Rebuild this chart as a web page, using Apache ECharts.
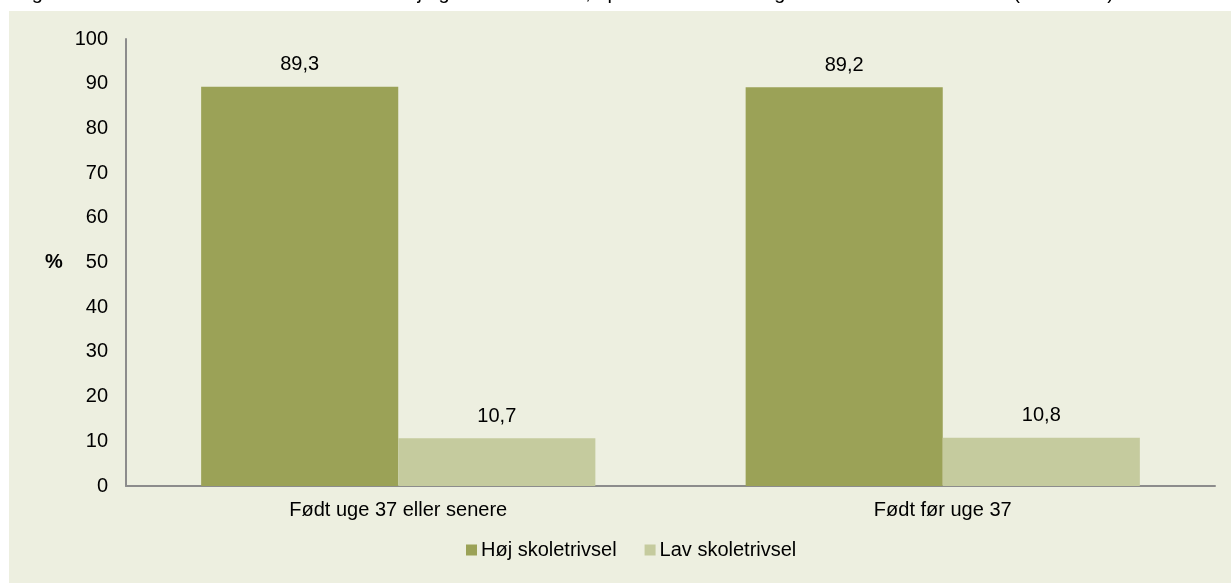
<!DOCTYPE html>
<html>
<head>
<meta charset="utf-8">
<script src="https://cdn.jsdelivr.net/npm/echarts@6/dist/echarts.min.js"></script>
<style>
html,body{margin:0;padding:0;background:#fff;}
#c{width:1231px;height:583px;}
</style>
</head>
<body>
<div id="c"></div>
<script>
const titleText = 'Figur 4.2 Andel af elever med henholdsvis høj og lav skoletrivsel, opdelt efter barnets gestationsalder ved fødsel (N=12.345)';
const categories = ['Født uge 37 eller senere', 'Født før uge 37'];
const seriesNames = ['Høj skoletrivsel', 'Lav skoletrivsel'];
const hojValues = [89.3, 89.2];
const lavValues = [10.7, 10.8];
const yTicks = { min: 0, max: 100, interval: 10 };
const yAxisName = '%';

const FONT = 'Liberation Sans, Arial, sans-serif';
const chart = echarts.init(document.getElementById('c'), null, { renderer: 'canvas' });
const fmt = p => String(p.value.toFixed(1)).replace('.', ',');

chart.setOption({
  backgroundColor: '#ffffff',
  animation: false,
  textStyle: { fontFamily: FONT },
  title: {
    text: titleText,
    left: 10,
    top: -22,
    textStyle: { fontFamily: FONT, fontSize: 20, fontWeight: 'normal', color: '#000' }
  },
  graphic: [
    { type: 'rect', z: -10, shape: { x: 9, y: 11, width: 1222, height: 572 }, style: { fill: '#EDEFE0' }, silent: true },
    { type: 'text', left: 45, top: 252, style: { text: yAxisName, font: 'bold 20px ' + FONT, fill: '#000' } }
  ],
  grid: { left: 126, right: 16, top: 39, bottom: 97, containLabel: false },
  legend: {
    data: seriesNames,
    bottom: 18,
    left: 461,
    icon: 'rect',
    itemWidth: 11,
    itemHeight: 11,
    itemGap: 28,
    textStyle: { fontFamily: FONT, fontSize: 20, color: '#000', padding: [0, 0, 0, -1] }
  },
  xAxis: {
    type: 'category',
    data: categories,
    axisLine: { show: true, lineStyle: { color: '#8C8C8C', width: 2 } },
    axisTick: { show: false },
    axisLabel: { fontFamily: FONT, fontSize: 20, color: '#000', margin: 14 },
    splitLine: { show: false }
  },
  yAxis: {
    type: 'value',
    min: yTicks.min,
    max: yTicks.max,
    interval: yTicks.interval,
    axisLine: { show: true, lineStyle: { color: '#8C8C8C', width: 2 } },
    axisTick: { show: false },
    axisLabel: { fontFamily: FONT, fontSize: 20, color: '#000', margin: 18 },
    splitLine: { show: false }
  },
  series: [
    {
      name: seriesNames[0], type: 'bar', data: hojValues,
      barGap: '0%', barCategoryGap: '27.6%',
      itemStyle: { color: '#9BA257' },
      label: { show: true, position: 'top', distance: 12, formatter: fmt, fontFamily: FONT, fontSize: 20, color: '#000' }
    },
    {
      name: seriesNames[1], type: 'bar', data: lavValues,
      barGap: '0%', barCategoryGap: '27.6%',
      itemStyle: { color: '#C5CB9E' },
      label: { show: true, position: 'top', distance: 12, formatter: fmt, fontFamily: FONT, fontSize: 20, color: '#000' }
    }
  ]
});
</script>
</body>
</html>
